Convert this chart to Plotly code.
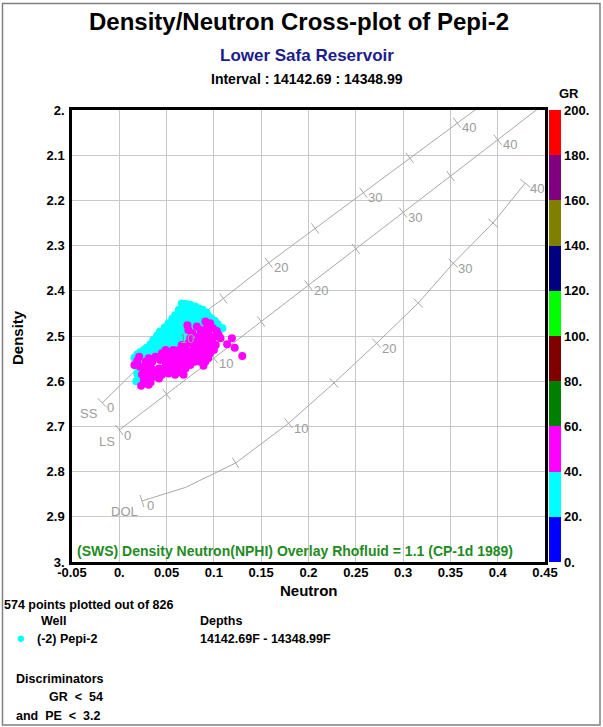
import math
import plotly.graph_objects as go

W, H = 603, 727
FONT = "Liberation Sans, Arial, sans-serif"

# ---------------- axis ticks ----------------
x_tickvals = [-0.05, 0.0, 0.05, 0.1, 0.15, 0.2, 0.25, 0.3, 0.35, 0.4, 0.45]
x_ticktext = ["-0.05", "0.", "0.05", "0.1", "0.15", "0.2", "0.25", "0.3", "0.35", "0.4", "0.45"]
y_tickvals = [2.0, 2.1, 2.2, 2.3, 2.4, 2.5, 2.6, 2.7, 2.8, 2.9, 3.0]
y_ticktext = ["2.", "2.1", "2.2", "2.3", "2.4", "2.5", "2.6", "2.7", "2.8", "2.9", "3."]

# ---------------- GR colour scale ----------------
gr_edges = [0, 20, 40, 60, 80, 100, 120, 140, 160, 180, 200]
gr_ticktext = ["0.", "20.", "40.", "60.", "80.", "100.", "120.", "140.", "160.", "180.", "200."]
gr_colors = ["#0000ff", "#00ffff", "#ff00ff", "#008000", "#800000",
             "#00ff00", "#000080", "#808000", "#800080", "#ff0000"]

# ---------------- overlay chart (porosity lines) ----------------
ss_phi = [0, 5, 10, 15, 20, 25, 30, 35, 40, 45]
ss_neutron = [-0.018, 0.019, 0.059, 0.110, 0.158, 0.207, 0.258, 0.307, 0.357, 0.407]
ss_density = [2.648, 2.572, 2.495, 2.417, 2.338, 2.262, 2.183, 2.106, 2.028, 1.952]

ls_phi = [0, 5, 10, 15, 20, 25, 30, 35, 40, 45]
ls_neutron = [0.000, 0.050, 0.100, 0.150, 0.200, 0.250, 0.300, 0.350, 0.400, 0.450]
ls_density = [2.708, 2.629, 2.549, 2.468, 2.388, 2.307, 2.227, 2.146, 2.066, 1.985]

dol_phi = [0, 2, 5, 10, 15, 20, 25, 30, 35, 40]
dol_neutron = [0.024, 0.070, 0.123, 0.179, 0.227, 0.272, 0.316, 0.353, 0.395, 0.429]
dol_density = [2.865, 2.835, 2.781, 2.693, 2.604, 2.516, 2.427, 2.339, 2.250, 2.162]

tick_phis = [0, 5, 10, 15, 20, 25, 30, 35, 40]
label_phis = [0, 10, 20, 30, 40]

# ---------------- data points (GR 20-40 : cyan, GR 40-54 : magenta) ----------------
cyan_neutron = [0.066, 0.070, 0.075, 0.080, 0.084, 0.088, 0.092,
                0.067, 0.072, 0.076, 0.080, 0.085, 0.089, 0.094, 0.097, 0.101, 0.104, 0.109,
                0.063, 0.064, 0.069, 0.073, 0.078, 0.082, 0.087,
                0.059, 0.056, 0.061, 0.066, 0.070, 0.075, 0.080, 0.085, 0.089,
                0.052, 0.057, 0.063, 0.067, 0.072, 0.077, 0.082,
                0.048, 0.053, 0.058, 0.064, 0.069, 0.075,
                0.043, 0.049, 0.054, 0.059, 0.064, 0.070,
                0.040, 0.044, 0.049, 0.055, 0.061,
                0.036, 0.041, 0.046, 0.051,
                0.033, 0.037, 0.042,
                0.029, 0.034, 0.039,
                0.026, 0.030,
                0.022, 0.027,
                0.019, 0.023,
                0.016, 0.020, 0.024,
                0.017,
                0.022, 0.019, 0.026, 0.020, 0.018, 0.023, 0.028,
                0.091, 0.094, 0.094, 0.077]
cyan_density = [2.428, 2.429, 2.431, 2.435, 2.439, 2.442, 2.448,
                2.437, 2.439, 2.442, 2.446, 2.450, 2.454, 2.455, 2.461, 2.467, 2.474, 2.483,
                2.442, 2.452, 2.450, 2.454, 2.457, 2.461, 2.462,
                2.454, 2.462, 2.462, 2.461, 2.465, 2.468, 2.470, 2.474, 2.479,
                2.472, 2.474, 2.474, 2.477, 2.483, 2.483, 2.487,
                2.481, 2.485, 2.487, 2.490, 2.494, 2.498,
                2.490, 2.494, 2.498, 2.501, 2.505, 2.509,
                2.499, 2.504, 2.509, 2.513, 2.516,
                2.509, 2.514, 2.518, 2.524,
                2.518, 2.524, 2.529,
                2.526, 2.531, 2.536,
                2.531, 2.538,
                2.536, 2.546,
                2.541, 2.549,
                2.548, 2.557, 2.561,
                2.566,
                2.575, 2.583, 2.586, 2.594, 2.600, 2.603, 2.580,
                2.465, 2.474, 2.494, 2.501]

magenta_neutron = [0.072, 0.073, 0.091, 0.096, 0.099, 0.103, 0.094, 0.088, 0.084, 0.091,
                   0.096, 0.101, 0.087, 0.093, 0.097, 0.102, 0.082, 0.088, 0.094, 0.079,
                   0.085, 0.090, 0.075, 0.080, 0.087, 0.072, 0.077, 0.091, 0.089, 0.068,
                   0.063, 0.059, 0.054, 0.049, 0.045, 0.050, 0.056, 0.061, 0.066, 0.052,
                   0.057, 0.063, 0.068, 0.059, 0.048, 0.042, 0.036, 0.033, 0.028, 0.031,
                   0.021, 0.019, 0.016, 0.022, 0.027, 0.024, 0.029, 0.028, 0.023, 0.033,
                   0.037, 0.042, 0.035, 0.049, 0.075, 0.079, 0.070, 0.066, 0.073, 0.082,
                   0.086, 0.119, 0.122, 0.114, 0.130, 0.096, 0.094, 0.072, 0.100,
                   0.057, 0.063, 0.052, 0.059, 0.064, 0.070, 0.075, 0.080, 0.084, 0.098,
                   0.105, 0.107, 0.091, 0.086, 0.043, 0.038, 0.035, 0.040, 0.045, 0.052,
                   0.031, 0.031, 0.026, 0.077, 0.093, 0.049, 0.068, 0.061]
magenta_density = [2.476, 2.487, 2.468, 2.472, 2.483, 2.489, 2.489, 2.496, 2.501, 2.504,
                   2.501, 2.501, 2.513, 2.514, 2.516, 2.520, 2.520, 2.524, 2.527, 2.527,
                   2.533, 2.538, 2.535, 2.542, 2.546, 2.542, 2.549, 2.557, 2.566, 2.549,
                   2.546, 2.544, 2.549, 2.544, 2.538, 2.557, 2.561, 2.557, 2.561, 2.570,
                   2.575, 2.580, 2.586, 2.586, 2.579, 2.572, 2.575, 2.566, 2.557, 2.549,
                   2.546, 2.555, 2.564, 2.568, 2.573, 2.585, 2.594, 2.605, 2.610, 2.603,
                   2.590, 2.594, 2.583, 2.564, 2.505, 2.513, 2.527, 2.520, 2.516, 2.479,
                   2.487, 2.505, 2.526, 2.518, 2.544, 2.538, 2.549, 2.557, 2.531,
                   2.531, 2.531, 2.536, 2.553, 2.564, 2.572, 2.564, 2.557, 2.553, 2.509,
                   2.498, 2.505, 2.546, 2.557, 2.553, 2.546, 2.557, 2.583, 2.586, 2.583,
                   2.579, 2.608, 2.597, 2.494, 2.479, 2.531, 2.538, 2.568]

assert len(cyan_neutron) == len(cyan_density)
assert len(magenta_neutron) == len(magenta_density)

# ---------------- texts ----------------
title_text = "Density/Neutron Cross-plot of Pepi-2"
subtitle_text = "Lower Safa Reservoir"
interval_text = "Interval : 14142.69 : 14348.99"
overlay_text = "(SWS) Density Neutron(NPHI) Overlay Rhofluid = 1.1 (CP-1d 1989)"
points_text = "574 points plotted out of 826"
well_header = "Well"
depth_header = "Depths"
well_name = "(-2) Pepi-2"
depth_range = "14142.69F - 14348.99F"
disc_header = "Discriminators"
disc_lines = ["GR\u00a0\u00a0<\u00a0\u00a054", "and\u00a0\u00a0PE\u00a0\u00a0<\u00a0\u00a03.2"]

# ---------------- layout geometry (pixels) ----------------
PL, PR, PT, PB = 72, 545, 110, 562


def fx(px):
    return px / W


def fy(py):
    return 1 - py / H


XSCALE = (PR - PL) / 0.5   # px per neutron unit
YSCALE = (PB - PT) / 1.0   # px per density unit

LINE_GRAY = "#a8a8a8"
LABEL_GRAY = "#9c9c9c"

fig = go.Figure()

annotations = []
lith = [("SS", ss_phi, ss_neutron, ss_density),
        ("LS", ls_phi, ls_neutron, ls_density),
        ("DOL", dol_phi, dol_neutron, dol_density)]

for name, phi, nn, dd in lith:
    fig.add_trace(go.Scatter(x=nn, y=dd, mode="lines",
                             line=dict(color=LINE_GRAY, width=1),
                             hoverinfo="skip", showlegend=False))
    tx, ty, ang = [], [], []
    for i, p in enumerate(phi):
        if p not in tick_phis:
            continue
        j0 = max(i - 1, 0)
        j1 = min(i + 1, len(phi) - 1)
        dxp = (nn[j1] - nn[j0]) * XSCALE
        dyp = (dd[j1] - dd[j0]) * YSCALE
        ang.append(math.degrees(math.atan2(dyp, dxp)))
        tx.append(nn[i])
        ty.append(dd[i])
        if p in label_phis:
            annotations.append(dict(x=nn[i], y=dd[i], xref="x", yref="y",
                                    text=str(p), showarrow=False,
                                    xanchor="left", yanchor="middle",
                                    xshift=4, yshift=-5, borderpad=0,
                                    font=dict(family=FONT, size=13, color=LABEL_GRAY)))
        if p == 0:
            annotations.append(dict(x=nn[i], y=dd[i], xref="x", yref="y",
                                    text=name, showarrow=False,
                                    xanchor="right", yanchor="middle",
                                    xshift=-3, yshift=-11, borderpad=0,
                                    font=dict(family=FONT, size=13, color=LABEL_GRAY)))
    fig.add_trace(go.Scatter(x=tx, y=ty, mode="markers",
                             marker=dict(symbol="line-ns", size=9, angle=ang,
                                         line=dict(color=LINE_GRAY, width=1)),
                             hoverinfo="skip", showlegend=False))

fig.add_trace(go.Scatter(x=cyan_neutron, y=cyan_density, mode="markers",
                         marker=dict(color=gr_colors[1], size=8, line=dict(width=0)),
                         showlegend=False, name="GR 20-40"))
fig.add_trace(go.Scatter(x=magenta_neutron, y=magenta_density, mode="markers",
                         marker=dict(color=gr_colors[2], size=8, line=dict(width=0)),
                         showlegend=False, name="GR 40-60"))

# discrete colour scale for the GR colour bar
colorscale = []
for i, c in enumerate(gr_colors):
    colorscale.append([gr_edges[i] / gr_edges[-1], c])
    colorscale.append([gr_edges[i + 1] / gr_edges[-1], c])

fig.add_trace(go.Scatter(
    x=[None], y=[None], mode="markers", showlegend=False, hoverinfo="skip",
    marker=dict(color=[gr_edges[0]], cmin=gr_edges[0], cmax=gr_edges[-1],
                colorscale=colorscale, showscale=True,
                colorbar=dict(x=fx(549), xanchor="left", y=fy((PT + PB) / 2), yanchor="middle",
                              len=(PB - PT) / H, lenmode="fraction",
                              thickness=12, thicknessmode="pixels",
                              outlinewidth=0, xpad=0, ypad=0,
                              tickvals=gr_edges, ticktext=gr_ticktext, ticks="",
                              tickfont=dict(family=FONT, size=13, color="black", weight="bold")))))


def txt(text, x, y, size, xanchor="left", color="black", weight="bold", angle=0):
    return dict(text=text, x=fx(x), y=fy(y), xref="paper", yref="paper",
                showarrow=False, xanchor=xanchor, yanchor="middle", textangle=angle,
                borderpad=0,
                font=dict(family=FONT, size=size, color=color, weight=weight))


annotations += [
    txt(title_text, 299, 21.5, 24, xanchor="center"),
    txt(subtitle_text, 307, 56, 17, xanchor="center", color="#1c1c8c"),
    txt(interval_text, 307, 79, 14, xanchor="center"),
    txt("GR", 569, 93, 13, xanchor="center"),
    txt(overlay_text, 76, 550.5, 14, color="#228b22"),
    txt("Neutron", 309, 590, 15, xanchor="center"),
    txt("Density", 18, 338, 15, xanchor="center", angle=-90),
    txt(points_text, 3, 605, 12.5),
    txt(well_header, 40, 621, 12.5),
    txt(depth_header, 199, 621, 12.5),
    txt("\u25cf", 20.5, 637, 15, xanchor="center", color=gr_colors[1]),
    txt(well_name, 36, 639, 12.5),
    txt(depth_range, 199, 639, 12.5),
    txt(disc_header, 15, 678.5, 12.5),
    txt(disc_lines[0], 48, 696.5, 12.5),
    txt(disc_lines[1], 15, 716, 12.5),
]

axis_common = dict(showgrid=True, gridcolor="#c8c8c8", gridwidth=1,
                   showline=True, mirror=True, linecolor="black", linewidth=2.5,
                   ticks="", zeroline=False,
                   tickfont=dict(family=FONT, size=13, color="black", weight="bold"))

fig.update_layout(
    width=W, height=H,
    margin=dict(l=0, r=0, t=0, b=0, autoexpand=False),
    paper_bgcolor="white", plot_bgcolor="white",
    xaxis=dict(domain=[fx(PL), fx(PR)], range=[-0.05, 0.45],
               tickmode="array", tickvals=x_tickvals, ticktext=x_ticktext,
               ticklabelstandoff=-3,
               **axis_common),
    yaxis=dict(domain=[fy(PB), fy(PT)], range=[3.0, 2.0],
               tickmode="array", tickvals=y_tickvals, ticktext=y_ticktext,
               ticklabelstandoff=2,
               **axis_common),
    annotations=annotations,
    shapes=[dict(type="rect", xref="paper", yref="paper",
                 x0=fx(2.5), x1=fx(600), y0=fy(725), y1=fy(3.5),
                 line=dict(color="#808080", width=1.5))],
    showlegend=False,
)

fig.write_html("out.html")
